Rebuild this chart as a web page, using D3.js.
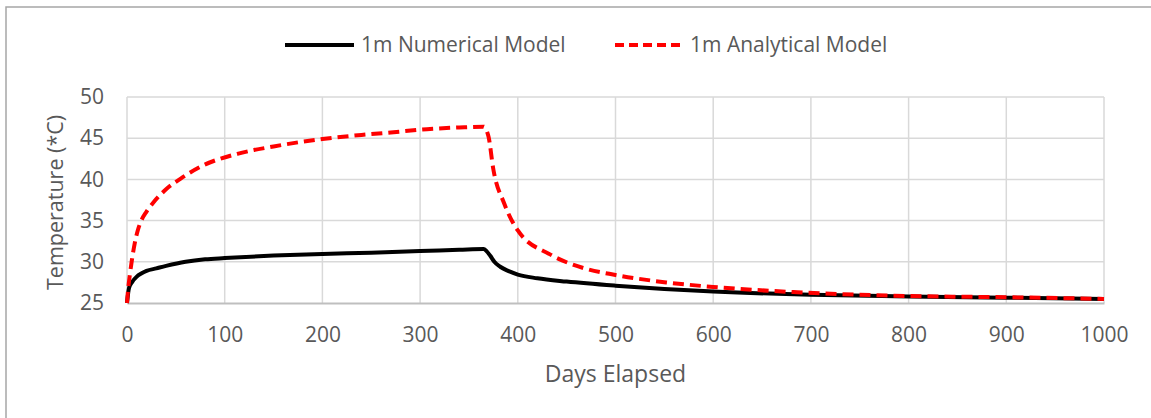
<!DOCTYPE html>
<html>
<meta charset="utf-8">
<head>
<title>numerical vs analytical temperature</title>
<script src="https://d3js.org/d3.v7.min.js"></script>
<style>
	body { margin: 0; background: #fff; }
	text { font-family: "Open Sans", sans-serif; fill: #595959; }
</style>
</head>

<body>
	<div id="plot"></div>
</body>

<script>

// 1m numerical model (days, temperature)
var numDays = [0, 2, 5, 10, 15, 20, 30, 40, 60, 80, 100, 150, 200, 250, 300, 340, 365,
	368, 372, 376, 382, 390, 400, 420, 450, 500, 550, 600, 700, 800, 900, 1000];
var numTemp = [25, 26.8, 27.5, 28.2, 28.6, 28.9, 29.2, 29.5, 30.0, 30.3, 30.45, 30.75, 30.95, 31.1, 31.3, 31.45, 31.55,
	31.3, 30.7, 30.0, 29.4, 28.9, 28.45, 28.0, 27.6, 27.1, 26.7, 26.4, 26.0, 25.8, 25.65, 25.5];

// 1m analytical model (days, temperature)
var anaDays = [0, 1, 3, 5, 8, 11, 15, 20, 27, 40, 55, 78, 113, 150, 200, 240, 270, 307, 340, 365,
	370, 375, 386, 400, 433, 467, 500, 552, 600, 686, 800, 900, 1000];
var anaTemp = [25, 26.5, 28.5, 30.2, 32.3, 33.8, 35.1, 36.1, 37.2, 38.8, 40.1, 41.7, 43.1, 44.0, 44.9, 45.4, 45.7, 46.1, 46.3, 46.4,
	45.2, 41.2, 37.1, 33.8, 30.9, 29.25, 28.4, 27.5, 26.95, 26.3, 25.85, 25.7, 25.5];

var xTicks = [0, 100, 200, 300, 400, 500, 600, 700, 800, 900, 1000];
var yTicks = [25, 30, 35, 40, 45, 50];

var seriesNames = ["1m Numerical Model", "1m Analytical Model"];

var width = 1151, height = 418;
var margin = { top: 97, right: 47, bottom: 115, left: 127 };

var svg = d3.select("#plot").append("svg")
	.attr("width", width)
	.attr("height", height);

// chart frame
svg.append("path")
	.attr("d", "M6,418 V7 H1151")
	.attr("fill", "none")
	.attr("stroke", "#a6a6a6")
	.attr("stroke-width", 1.5);

var xScale = d3.scaleLinear()
	.domain([0, 1000])
	.range([margin.left, width - margin.right]);

var yScale = d3.scaleLinear()
	.domain([25, 50])
	.range([height - margin.bottom, margin.top]);

// gridlines
svg.append("g").selectAll("line.h")
	.data(yTicks.slice(1))
	.enter().append("line")
	.attr("x1", xScale(0)).attr("x2", xScale(1000))
	.attr("y1", function(d){ return yScale(d); })
	.attr("y2", function(d){ return yScale(d); })
	.attr("stroke", "#d9d9d9").attr("stroke-width", 1.5);

svg.append("g").selectAll("line.v")
	.data(xTicks)
	.enter().append("line")
	.attr("y1", yScale(25)).attr("y2", yScale(50))
	.attr("x1", function(d){ return xScale(d); })
	.attr("x2", function(d){ return xScale(d); })
	.attr("stroke", "#d9d9d9").attr("stroke-width", 1.5);

// x axis
var xAxis = d3.axisBottom(xScale).tickValues(xTicks).tickFormat(d3.format("d"))
	.tickSize(0).tickPadding(24);
var gx = svg.append("g")
	.attr("transform", "translate(0," + yScale(25) + ")")
	.call(xAxis);
gx.select(".domain").attr("stroke", "#bfbfbf").attr("stroke-width", 2);
gx.selectAll("text").style("font-size", "21px").attr("fill", "#595959");

// y axis
var yAxis = d3.axisLeft(yScale).tickValues(yTicks).tickSize(0).tickPadding(23);
var gy = svg.append("g")
	.attr("transform", "translate(" + margin.left + ",0)")
	.call(yAxis);
gy.select(".domain").remove();
gy.selectAll("text").style("font-size", "21px").attr("fill", "#595959");

// axis titles
svg.append("text")
	.attr("x", xScale(500))
	.attr("y", 382)
	.attr("text-anchor", "middle")
	.style("font-size", "23px")
	.text("Days Elapsed");

svg.append("text")
	.attr("transform", "translate(63," + yScale(37.2) + ") rotate(-90)")
	.attr("text-anchor", "middle")
	.style("font-size", "21.5px")
	.text("Temperature (*C)");

// series lines
var line = d3.line()
	.x(function(d){ return xScale(d[0]); })
	.y(function(d){ return yScale(d[1]); })
	.curve(d3.curveMonotoneX);

var numData = d3.zip(numDays, numTemp);
var anaData = d3.zip(anaDays, anaTemp);

svg.append("path")
	.datum(numData)
	.attr("d", line)
	.attr("fill", "none")
	.attr("stroke", "#000")
	.attr("stroke-width", 4)
	.attr("stroke-linejoin", "round");

svg.append("path")
	.datum(anaData)
	.attr("d", line)
	.attr("fill", "none")
	.attr("stroke", "#ff0000")
	.attr("stroke-width", 4)
	.attr("stroke-dasharray", "11,6")
	.attr("stroke-linejoin", "round");

// legend
var legend = svg.append("g");
legend.append("line")
	.attr("x1", 285).attr("x2", 354).attr("y1", 45).attr("y2", 45)
	.attr("stroke", "#000").attr("stroke-width", 4);
legend.append("text")
	.attr("x", 361).attr("y", 52)
	.style("font-size", "21px")
	.text(seriesNames[0]);

legend.append("line")
	.attr("x1", 615).attr("x2", 685).attr("y1", 45).attr("y2", 45)
	.attr("stroke", "#ff0000").attr("stroke-width", 4)
	.attr("stroke-dasharray", "9,5");
legend.append("text")
	.attr("x", 690).attr("y", 52)
	.style("font-size", "21px")
	.text(seriesNames[1]);

</script>
</html>
